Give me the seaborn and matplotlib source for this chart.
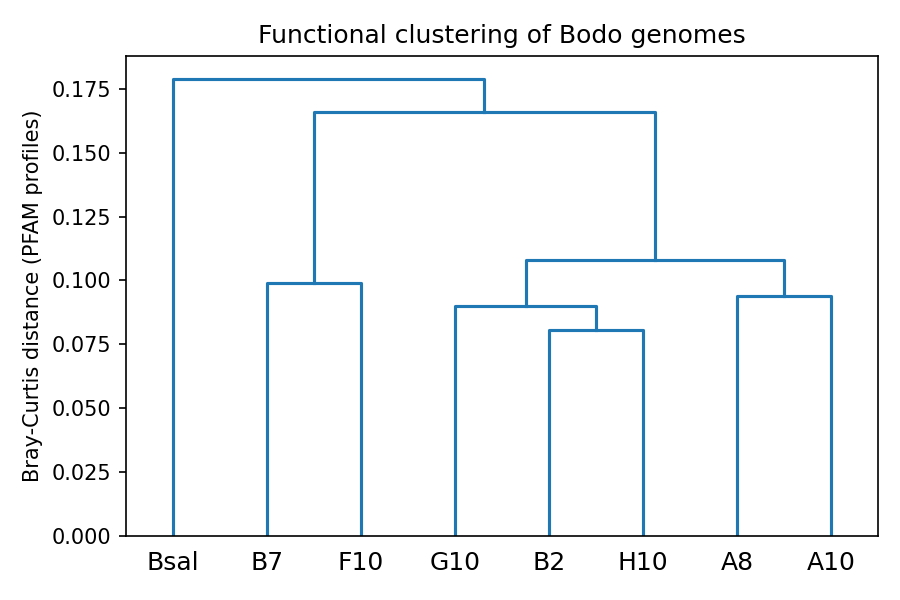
import pandas as pd
import matplotlib
matplotlib.use("Agg")
import matplotlib.pyplot as plt
import seaborn as sns

# Leaf order along the x axis
leaves = ['Bsal', 'B7', 'F10', 'G10', 'B2', 'H10', 'A8', 'A10']

# Merges: (left child, right child, height); nodes named n0..n6
merge_left = ['B2', 'G10', 'A8', 'B7', 'n1', 'n3', 'Bsal']
merge_right = ['H10', 'n0', 'A10', 'F10', 'n2', 'n4', 'n5']
merge_height = [0.0807, 0.0901, 0.0940, 0.0991, 0.1081, 0.1660, 0.1789]

# x position of each leaf (scipy style: 5, 15, 25, ...)
xpos = {name: 5 + 10 * i for i, name in enumerate(leaves)}
ypos = {name: 0.0 for name in leaves}

rows = []
for k, (a, b, h) in enumerate(zip(merge_left, merge_right, merge_height)):
    node = f'n{k}'
    xa, xb = xpos[a], xpos[b]
    pts = [(xa, ypos[a]), (xa, h), (xb, h), (xb, ypos[b])]
    for j, (x, y) in enumerate(pts):
        rows.append({'link': k, 'order': j, 'x': x, 'y': y})
    xpos[node] = (xa + xb) / 2
    ypos[node] = h

df = pd.DataFrame(rows)

fig, ax = plt.subplots(figsize=(6, 4), dpi=150)
sns.lineplot(data=df, x='x', y='y', units='link', estimator=None, sort=False,
             color='C0', linewidth=1.5, ax=ax)

ax.set_xlim(0, 10 * len(leaves))
ax.set_ylim(0, max(merge_height) * 1.05)
ax.set_xticks([5 + 10 * i for i in range(len(leaves))])
ax.set_xticklabels(leaves, fontsize=12)
ax.tick_params(axis='x', length=0, pad=7)
ax.set_xlabel('')
ax.set_ylabel('Bray-Curtis distance (PFAM profiles)')
ax.set_title('Functional clustering of Bodo genomes')

fig.subplots_adjust(left=0.14, right=0.9756, top=0.9067, bottom=0.1067)
plt.savefig('out.png', dpi=150)
